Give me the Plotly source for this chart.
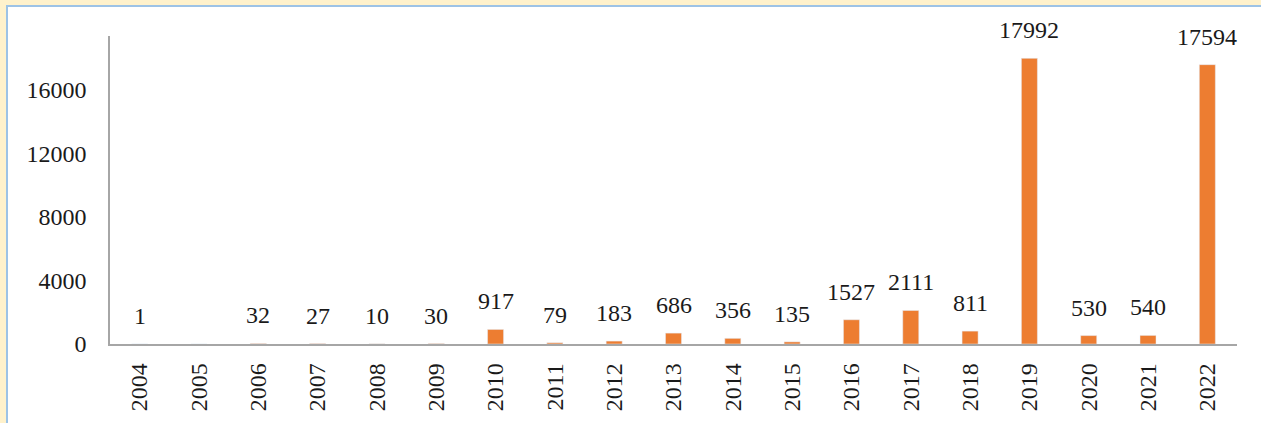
import plotly.graph_objects as go

years = [str(y) for y in range(2004, 2023)]
values = [1, 0, 32, 27, 10, 30, 917, 79, 183, 686, 356, 135, 1527, 2111, 811, 17992, 530, 540, 17594]
labels = ["1", "", "32", "27", "10", "30", "917", "79", "183", "686", "356", "135", "1527", "2111", "811", "17992", "530", "540", "17594"]
y_ticks = [0, 4000, 8000, 12000, 16000]

L, R, T, B = 110, 24, 36, 79
W, H = 1261, 423
pw, ph = W - L - R, H - T - B
FONT = dict(family="Liberation Serif", size=24, color="#1a1a1a")

fig = go.Figure(go.Bar(x=years, y=values, marker_color="#ED7D31", width=0.27))

for i, (v, t) in enumerate(zip(values, labels)):
    if t:
        fig.add_annotation(x=i, y=v, text=t, showarrow=False, yanchor="bottom",
                           yshift=13, font=FONT)

fig.add_shape(type="rect", xref="paper", yref="paper",
              x0=(7 - L) / pw, x1=(W + 20 - L) / pw,
              y0=-(B + 20) / ph, y1=(H - B - 6) / ph,
              fillcolor="white", line=dict(color="#9DC3E6", width=2), layer="below")

fig.update_layout(
    width=W, height=H,
    margin=dict(l=L, r=R, t=T, b=B),
    paper_bgcolor="#FFF2CC", plot_bgcolor="rgba(0,0,0,0)",
    showlegend=False,
    xaxis=dict(type="category", range=[-0.5, len(years) - 0.5], showline=True, linecolor="#A6A6A6", linewidth=1.5,
               tickangle=-90, ticks="", tickfont=FONT,
               ticklabelstandoff=8, showgrid=False, zeroline=False),
    yaxis=dict(range=[0, 19400], tickvals=y_ticks, ticktext=[str(v) for v in y_ticks],
               showline=True, linecolor="#A6A6A6", linewidth=1.5,
               ticks="", tickfont=FONT,
               ticklabelstandoff=17, showgrid=False, zeroline=False),
)

fig.write_html("out.html", config={"displayModeBar": False},
               post_script="document.body.style.margin='0';document.body.style.background='#FFF2CC';document.body.style.overflow='hidden';")
